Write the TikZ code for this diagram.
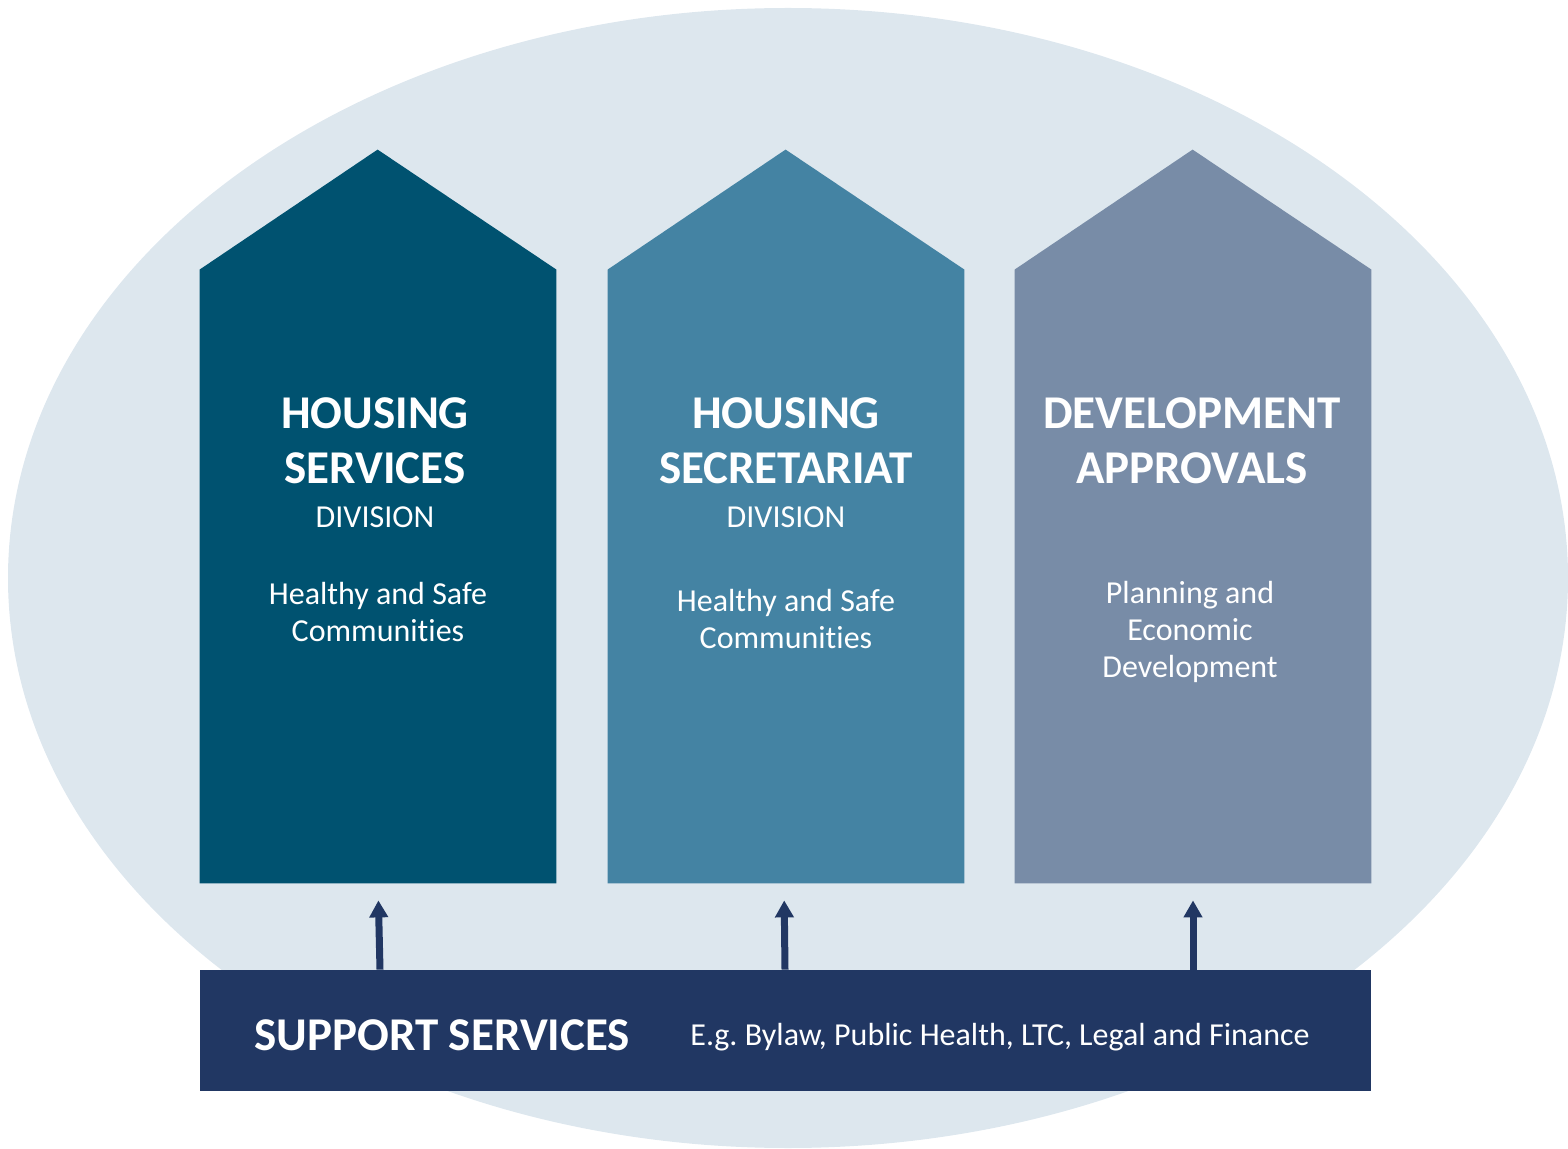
\documentclass[tikz,border=0pt]{standalone}
\usepackage{fontspec}
\setmainfont{Carlito}[Ligatures=NoCommon]
\usetikzlibrary{arrows.meta,positioning}
\definecolor{ovalbg}{HTML}{DDE7EE}
\definecolor{hsblue}{HTML}{005270}
\definecolor{secblue}{HTML}{4483A3}
\definecolor{devgrey}{HTML}{788CA7}
\definecolor{navy}{HTML}{213763}
\tikzset{
  pillar/.style={inner sep=0pt, minimum width=178pt, minimum height=306.5pt},
  ptitle/.style={text=white, font=\bfseries\fontsize{23.5}{27.5}\selectfont, align=center},
  psub/.style={text=white, font=\fontsize{16}{18.5}\selectfont, align=center},
  upar/.style={draw=navy, line width=3.5pt, -{Triangle[width=9pt,length=8.5pt]}, shorten >=8.5pt}
}
\frenchspacing
\begin{document}
\begin{tikzpicture}[x=0.5pt, y=-0.5pt, line join=round]
			\useasboundingbox (0,0) rectangle (1568,1149);
			\fill[ovalbg] (788,578) ellipse [x radius=780, y radius=570];
			% the three pillars
			\node[pillar] (hs) at (378,576.5) {};
			\node[pillar] (sec) at (786,576.5) {};
			\node[pillar] (dev) at (1193,576.5) {};
			\fill[hsblue] (hs.south west) -- (hs.north west) -- ++(178,-120) -- (hs.north east) -- (hs.south east) -- cycle;
			\fill[secblue] (sec.south west) -- (sec.north west) -- ++(178,-120) -- (sec.north east) -- (sec.south east) -- cycle;
			\fill[devgrey] (dev.south west) -- (dev.north west) -- ++(178,-120) -- (dev.north east) -- (dev.south east) -- cycle;
			\node[ptitle] (hsT) at (375,441) {HOUSING\\SERVICES};
			\node[psub] (hsD) at (375,517) {DIVISION};
			\node[psub] (hsC) at (378,612) {Healthy and Safe\\Communities};
			\node[ptitle] (secT) at (786,441) {HOUSING\\SECRETARIAT};
			\node[psub] (secD) at (786,517) {DIVISION};
			\node[psub] (secC) at (786,619) {Healthy and Safe\\Communities};
			\node[ptitle] (devT) at (1192,441) {DEVELOPMENT\\APPROVALS};
			\node[psub] (devC) at (1190,632) {Planning and\\Economic\\Development};
			% support bar
			\node[fill=navy, inner sep=0pt, minimum width=585.5pt, minimum height=60.5pt] (bar) at (785.5,1030.5) {};
			\node[anchor=west, text=white, font=\bfseries\fontsize{23.5}{28}\selectfont, inner sep=0pt] (supT) at (254,1035) {SUPPORT SERVICES};
			\node[anchor=west, text=white, font=\fontsize{16}{18}\selectfont, inner sep=0pt] (supE) at (690,1037) {E.g. Bylaw, Public Health, LTC, Legal and Finance};
			\draw[upar] ([xshift=1pt]bar.north -| hs.south) -- (hs.south);
			\draw[upar] ([xshift=-0.5pt]bar.north -| sec.south) -- ([xshift=-1pt]sec.south);
			\draw[upar] (bar.north -| dev.south) -- (dev.south);
			\end{tikzpicture}
\end{document}
